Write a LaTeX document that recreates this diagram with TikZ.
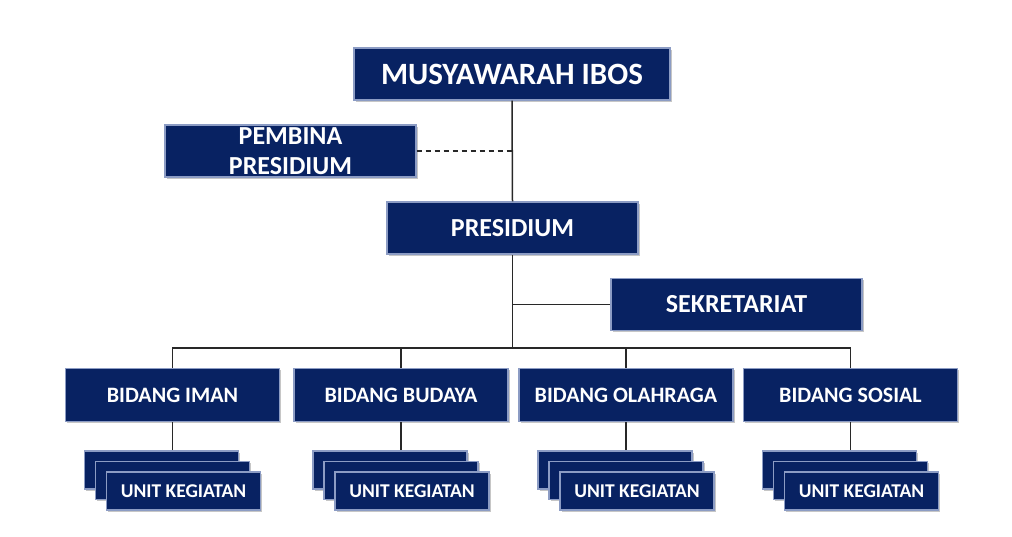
\documentclass[tikz,border=0pt]{standalone}
\usepackage{fontspec}
\setmainfont{Carlito}
\usetikzlibrary{shadows}

\definecolor{navybox}{RGB}{8,34,98}
\definecolor{bevel}{RGB}{140,156,196}
\definecolor{linkline}{RGB}{40,40,40}

\begin{document}
\begin{tikzpicture}[x=1pt,y=-1pt,
	orgbox/.style={rectangle, fill=navybox, draw=bevel, line width=1.2pt,
		text=white, font=\bfseries, inner sep=0pt, align=center,
		drop shadow={opacity=0.45, shadow xshift=1.5pt, shadow yshift=-1.5pt}},
	bigbox/.style={orgbox, minimum width=316pt, minimum height=52pt,
		font=\bfseries\fontsize{31}{36}\selectfont},
	midbox/.style={orgbox, minimum width=251pt, minimum height=52pt,
		font=\bfseries\fontsize{26}{30}\selectfont},
	bidangbox/.style={orgbox, minimum width=214pt, minimum height=53pt,
		font=\bfseries\fontsize{22}{26}\selectfont},
	unitbox/.style={orgbox, minimum width=154pt, minimum height=38pt,
		font=\bfseries\fontsize{19.5}{22}\selectfont},
	link/.style={draw=linkline, line width=1.5pt}]
	\useasboundingbox (0,0) rectangle (1012,536);

	\node[bigbox] (musyawarah) at (512,74) {MUSYAWARAH IBOS};
	\node[midbox] (pembina) at (290.5,151) {PEMBINA\\PRESIDIUM};
	\node[midbox] (presidium) at (512.5,228) {PRESIDIUM};
	\node[midbox] (sekretariat) at (736.5,304.5) {SEKRETARIAT};

	\draw[link] (musyawarah.south) -- (presidium.north);
	\draw[link, dash pattern=on 5pt off 4pt] (pembina.east) -- (pembina.east -| musyawarah.south);
	\draw[link] (presidium.south |- sekretariat.west) -- (sekretariat.west);

	\coordinate (bus) at (512.5,348);
	\draw[link] (presidium.south) -- (bus);

	\foreach \name/\x/\txt in {iman/172.5/BIDANG IMAN, budaya/401/BIDANG BUDAYA,
		olahraga/626/BIDANG OLAHRAGA, sosial/850.5/BIDANG SOSIAL} {
		\draw[link] (bus) -| (\x,395);
		\node[bidangbox] (\name) at (\x,395) {\txt};
		% stacked unit boxes
		\node[unitbox] (\name-u1) at (\x-11,470) {};
		\node[unitbox] (\name-u2) at (\x,480.5) {};
		\node[unitbox] (\name-u3) at (\x+11,491) {UNIT KEGIATAN};
		\draw[link] (\name.south) -- (\name.south |- \name-u1.north);
	}
\end{tikzpicture}
\end{document}
